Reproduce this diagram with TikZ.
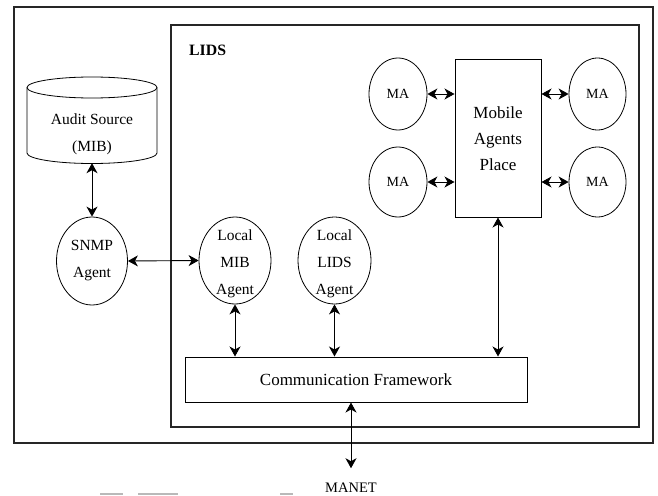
\documentclass[tikz,border=0pt]{standalone}
\usepackage{fontspec}
\setmainfont{Liberation Serif}
\usetikzlibrary{arrows.meta,shapes.geometric}
\begin{document}
\begin{tikzpicture}[x=1pt,y=-1pt,
  frame/.style={draw,line width=1.1pt,color=black!85},
  agent/.style={draw,ellipse,line width=0.8pt,inner sep=0pt},
  boxnode/.style={draw,line width=1pt,inner sep=0pt,align=center},
  link/.style={line width=0.9pt,{Stealth[length=10pt,width=11pt,inset=3pt]}-{Stealth[length=10pt,width=11pt,inset=3pt]}},
  txt/.style={font=\fontsize{15.5}{27}\selectfont,align=center},
  bigtxt/.style={font=\fontsize{17}{26}\selectfont,align=center},
  matxt/.style={font=\fontsize{14}{16}\selectfont}
]
\useasboundingbox (0,0) rectangle (658,495);
% frames
\draw[frame] (14,7) rectangle (653,443);
\draw[frame] (171,25) rectangle (639,427);
\node[anchor=base west,font=\fontsize{15.8}{18}\selectfont\bfseries,inner sep=0pt] (lids) at (189,56) {LIDS};

% audit source cylinder
\node[minimum width=130,minimum height=86,inner sep=0pt,
  label={[txt,inner sep=0pt,yshift=-14pt]center:Audit Source\\(MIB)}] (audit) at (92,120) {};
\draw[line width=0.8pt] (92,87.5) ellipse [x radius=65,y radius=10.5];
\draw[line width=0.8pt] (27,87.5) -- (27,153) arc [start angle=180,end angle=0,x radius=65,y radius=10.5] -- (157,87.5);

% agents
\node[agent,minimum width=71,minimum height=88,txt] (snmp) at (92,261) {SNMP\\Agent};
\node[agent,minimum width=72,minimum height=87,
  label={[txt,inner sep=0pt,yshift=-3pt]center:Local\\MIB\\Agent}] (lmib) at (235,260.5) {};
\node[agent,minimum width=73,minimum height=87,
  label={[txt,inner sep=0pt,yshift=-3pt]center:Local\\LIDS\\Agent}] (llids) at (334.5,260.5) {};

% mobile agents place
\node[boxnode,minimum width=86,minimum height=157,bigtxt] (map) at (498,138.5) {Mobile\\Agents\\Place};
\node[agent,minimum width=58,minimum height=72,matxt] (ma1) at (398,94) {MA};
\node[agent,minimum width=58,minimum height=70,matxt] (ma2) at (398,182) {MA};
\node[agent,minimum width=57,minimum height=72,matxt] (ma3) at (597.5,94) {MA};
\node[agent,minimum width=57,minimum height=70,matxt] (ma4) at (597.5,182) {MA};

% communication framework
\node[boxnode,minimum width=342,minimum height=45,bigtxt] (cf) at (356,379.5) {Communication Framework};

% MANET
\node[anchor=base,font=\fontsize{14.5}{16}\selectfont,inner sep=2pt] (manet) at (351,492) {MANET};

% connectors
\draw[link] (audit.south) -- (snmp.north);
\draw[link] (snmp.east) -- (lmib.west);
\draw[link] (lmib.south) -- (lmib.south |- cf.north);
\draw[link] (llids.south) -- (llids.south |- cf.north);
\draw[link] (map.south) -- (map.south |- cf.north);
\draw[link] (ma1.east) -- (ma1.east -| map.west);
\draw[link] (ma2.east) -- (ma2.east -| map.west);
\draw[link] (ma3.west) -- (ma3.west -| map.east);
\draw[link] (ma4.west) -- (ma4.west -| map.east);
\coordinate (mtop) at ([yshift=12pt]manet.north);
\draw[link] (cf.south -| manet.north) -- (mtop);

% clipped caption remnants
\fill[gray!55] (100,492.5) rectangle (123,495);
\fill[gray!55] (138,492.5) rectangle (178,495);
\fill[gray!55] (280,492.5) rectangle (293,495);
\end{tikzpicture}
\end{document}
